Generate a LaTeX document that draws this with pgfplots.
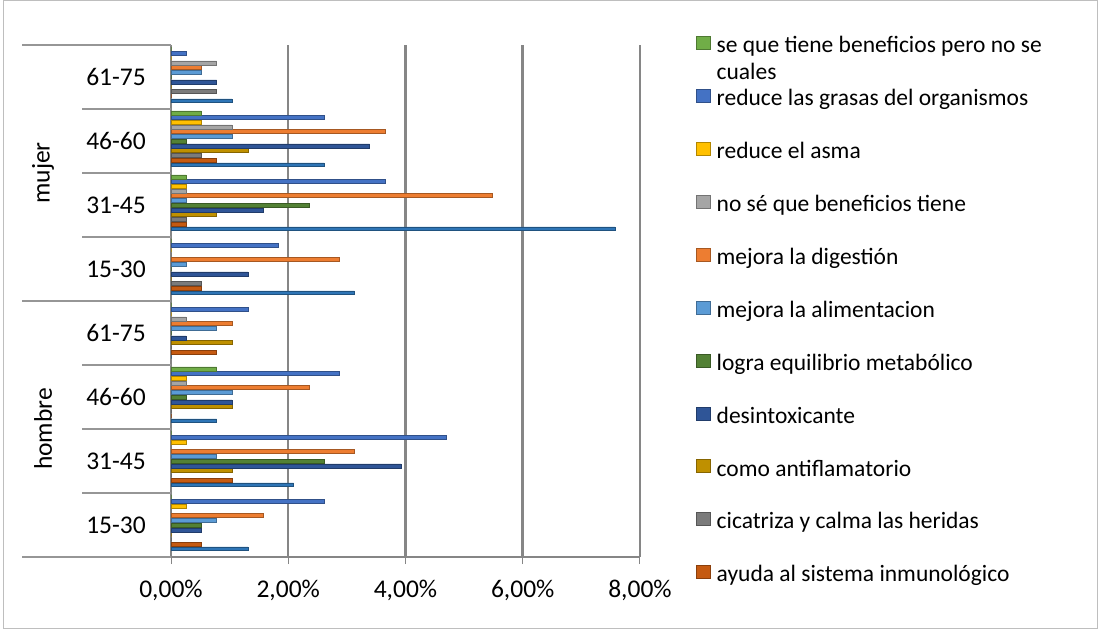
\documentclass[border=0pt]{standalone}
\usepackage{pgfplots}
\pgfplotsset{compat=1.18}
\usepackage{pgfplotstable}
\usepackage{fontspec}
\setmainfont{Carlito}
\newcommand\cf{\fontsize{23.5bp}{27bp}\selectfont}
\newcommand\af{\fontsize{25.5bp}{29bp}\selectfont}
\newcommand\lstrut{\rule[-5.8bp]{0pt}{27bp}}
\definecolor{c1}{HTML}{2E75B6}
\definecolor{c2}{HTML}{C55A11}
\definecolor{c3}{HTML}{7B7B7B}
\definecolor{c4}{HTML}{BF9000}
\definecolor{c5}{HTML}{2F5597}
\definecolor{c6}{HTML}{538135}
\definecolor{c7}{HTML}{5B9BD5}
\definecolor{c8}{HTML}{ED7D31}
\definecolor{c9}{HTML}{A5A5A5}
\definecolor{c10}{HTML}{FFC000}
\definecolor{c11}{HTML}{4472C4}
\definecolor{c12}{HTML}{70AD47}
\definecolor{axgray}{RGB}{134,134,134}
\definecolor{sepgray}{RGB}{150,150,150}
\definecolor{framegray}{RGB}{190,190,190}
% g: 0-3 hombre 15-30..61-75, 4-7 mujer 15-30..61-75 ; values in percent
\pgfplotstableread{
g s1 s2 s3 s4 s5 s6 s7 s8 s9 s10 s11 s12
0 1.31 0.52 0 0 0.52 0.52 0.78 1.57 0 0.26 2.61 0
1 2.09 1.04 0 1.04 3.92 2.61 0.78 3.13 0 0.26 4.70 0
2 0.78 0 0 1.04 1.04 0.26 1.04 2.35 0.26 0.26 2.87 0.78
3 0 0.78 0 1.04 0.26 0 0.78 1.04 0.26 0 1.31 0
4 3.13 0.52 0.52 0 1.31 0 0.26 2.87 0 0 1.83 0
5 7.57 0.26 0.26 0.78 1.57 2.35 0.26 5.48 0.26 0.26 3.66 0.26
6 2.61 0.78 0.52 1.31 3.39 0.26 1.04 3.66 1.04 0.52 2.61 0.52
7 1.04 0 0.78 0 0.78 0 0.52 0.52 0.78 0 0.26 0
}\datatable
\begin{document}
\begin{tikzpicture}
\useasboundingbox (0,0) rectangle (1099bp,629bp);
\draw[draw=framegray, line width=1bp] (3bp,1bp) rectangle (1097bp,628bp);
\begin{axis}[
  at={(171bp,72bp)}, anchor=south west,
  scale only axis, width=469bp, height=512bp,
  xbar, bar width=0.062,
  xmin=0, xmax=8, ymin=-0.5, ymax=7.5,
  clip=false,
  axis x line*=bottom, axis y line*=left,
  axis line style={-, draw=axgray, line width=2bp},
  xtick={0,2,4,6,8},
  xticklabels={{0,00\%},{2,00\%},{4,00\%},{6,00\%},{8,00\%}},
  xticklabel style={font=\af, anchor=base, inner sep=0pt, yshift=-33bp},
  ytick={0,1,2,3,4,5,6,7},
  yticklabels={15-30,31-45,46-60,61-75,15-30,31-45,46-60,61-75},
  yticklabel style={font=\af, anchor=east, inner sep=0pt, xshift=-18bp},
  major tick length=7bp, tick align=outside,
  xtick style={draw=axgray, line width=1bp}, ytick style={draw=none},
  xmajorgrids, grid style={draw=axgray, line width=2.5bp},
  legend style={at={(1.1194,1.02637)}, anchor=north west, draw=none, fill=none,
    inner sep=0pt, row sep=30.2bp, column sep=6bp, font=\cf,
    cells={anchor=west}, nodes={inner sep=0pt}},
  reverse legend,
  legend image code/.code={\fill[#1] (0bp,-6.5bp) rectangle (14bp,6.5bp);},
]
\addplot[fill=c1, draw=c1!70!black, line width=0.5bp, bar shift=-0.371, forget plot] table[x=s1,y=g]{\datatable};
\addplot[fill=c2, draw=c2!70!black, line width=0.5bp, bar shift=-0.297] table[x=s2,y=g]{\datatable};
\addlegendentry{\lstrut ayuda al sistema inmunológico}
\addplot[fill=c3, draw=c3!70!black, line width=0.5bp, bar shift=-0.223] table[x=s3,y=g]{\datatable};
\addlegendentry{\lstrut cicatriza y calma las heridas}
\addplot[fill=c4, draw=c4!70!black, line width=0.5bp, bar shift=-0.150] table[x=s4,y=g]{\datatable};
\addlegendentry{\lstrut como antiflamatorio}
\addplot[fill=c5, draw=c5!70!black, line width=0.5bp, bar shift=-0.076] table[x=s5,y=g]{\datatable};
\addlegendentry{\lstrut desintoxicante}
\addplot[fill=c6, draw=c6!70!black, line width=0.5bp, bar shift=-0.002] table[x=s6,y=g]{\datatable};
\addlegendentry{\lstrut logra equilibrio metabólico}
\addplot[fill=c7, draw=c7!70!black, line width=0.5bp, bar shift=0.072] table[x=s7,y=g]{\datatable};
\addlegendentry{\lstrut mejora la alimentacion}
\addplot[fill=c8, draw=c8!70!black, line width=0.5bp, bar shift=0.146] table[x=s8,y=g]{\datatable};
\addlegendentry{\lstrut mejora la digestión}
\addplot[fill=c9, draw=c9!70!black, line width=0.5bp, bar shift=0.220] table[x=s9,y=g]{\datatable};
\addlegendentry{\lstrut no sé que beneficios tiene}
\addplot[fill=c10, draw=c10!70!black, line width=0.5bp, bar shift=0.293] table[x=s10,y=g]{\datatable};
\addlegendentry{\lstrut reduce el asma}
\addplot[fill=c11, draw=c11!70!black, line width=0.5bp, bar shift=0.367] table[x=s11,y=g]{\datatable};
\addlegendentry{\lstrut reduce las grasas del organismos}
\addplot[fill=c12, draw=c12!70!black, line width=0.5bp, bar shift=0.441] table[x=s12,y=g]{\datatable};
\addlegendentry{\lstrut\smash{\parbox[t]{380bp}{\raggedright se que tiene beneficios pero no se\\cuales}}}
% category separators
\draw[sepgray, line width=1.2bp] (axis cs:0,-0.5) -- ([xshift=-149bp]axis cs:0,-0.5);
\draw[sepgray, line width=1.2bp] (axis cs:0,3.5) -- ([xshift=-149bp]axis cs:0,3.5);
\draw[sepgray, line width=1.2bp] (axis cs:0,7.5) -- ([xshift=-149bp]axis cs:0,7.5);
\draw[sepgray, line width=1.2bp] (axis cs:0,0.5) -- ([xshift=-89bp]axis cs:0,0.5);
\draw[sepgray, line width=1.2bp] (axis cs:0,1.5) -- ([xshift=-89bp]axis cs:0,1.5);
\draw[sepgray, line width=1.2bp] (axis cs:0,2.5) -- ([xshift=-89bp]axis cs:0,2.5);
\draw[sepgray, line width=1.2bp] (axis cs:0,4.5) -- ([xshift=-89bp]axis cs:0,4.5);
\draw[sepgray, line width=1.2bp] (axis cs:0,5.5) -- ([xshift=-89bp]axis cs:0,5.5);
\draw[sepgray, line width=1.2bp] (axis cs:0,6.5) -- ([xshift=-89bp]axis cs:0,6.5);
\node[font=\af, rotate=90, anchor=center] at ([xshift=-128bp]axis cs:0,1.5) {hombre};
\node[font=\af, rotate=90, anchor=center] at ([xshift=-128bp]axis cs:0,5.5) {mujer};
\end{axis}
\end{tikzpicture}
\end{document}
